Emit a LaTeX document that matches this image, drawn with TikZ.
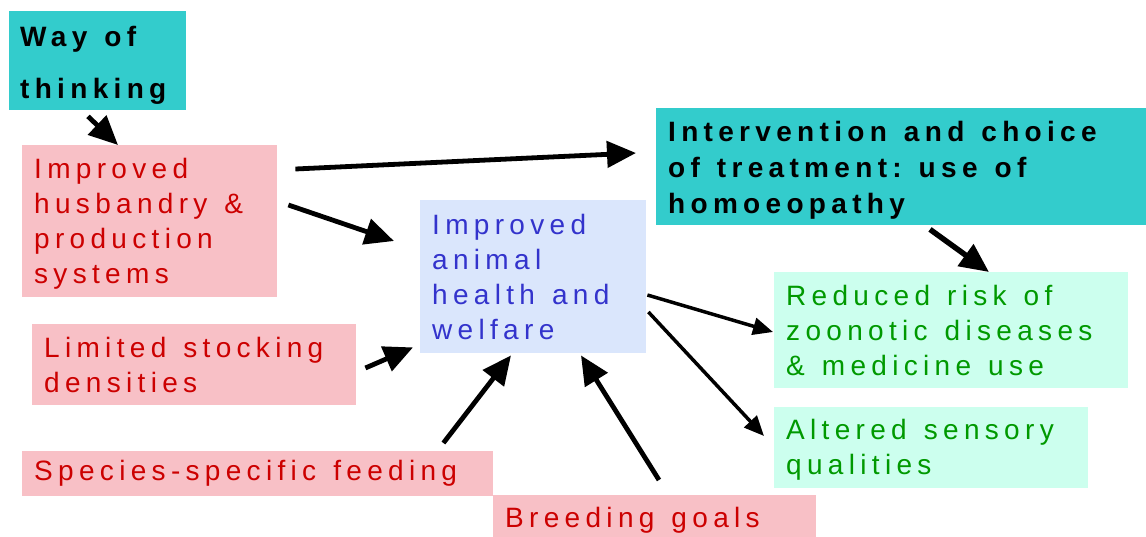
\documentclass[tikz,border=0pt]{standalone}
\usepackage{fontspec}
\setmainfont{Liberation Sans}
\newfontfamily\spacedfont[LetterSpace=19]{Liberation Sans}
\newcommand\wsp{\hspace{17pt}}
\usetikzlibrary{arrows.meta,calc}
\definecolor{tealbox}{RGB}{51,204,204}
\definecolor{pinkbox}{RGB}{248,192,198}
\definecolor{bluebox}{RGB}{218,230,252}
\definecolor{greenbox}{RGB}{204,255,238}
\definecolor{redtext}{RGB}{204,0,0}
\definecolor{bluetext}{RGB}{51,51,204}
\definecolor{greentext}{RGB}{0,153,0}
\begin{document}
\begin{tikzpicture}[x=1pt,y=-1pt,
    box/.style = {anchor=north west,inner xsep=12pt,inner ysep=0pt,align=left,
                  font=\spacedfont\fontsize{28}{35}\selectfont},
    mainbox/.style = {box,fill=tealbox,text=black,
                  font=\spacedfont\bfseries\fontsize{28}{36}\selectfont},
    causebox/.style = {box,fill=pinkbox,text=redtext},
    healthbox/.style = {box,fill=bluebox,text=bluetext},
    resultbox/.style = {box,fill=greenbox,text=greentext},
    arrow/.style = {line width=4.8pt,-{Triangle[length=29pt,width=26pt]}},
    thinarrow/.style = {line width=3.5pt,-{Triangle[length=20pt,width=17pt]}}]
    \useasboundingbox (0,0) rectangle (1146,536);

    \node[mainbox,font=\spacedfont\bfseries\fontsize{28}{52}\selectfont,inner xsep=11pt,
          minimum width=177pt,minimum height=99pt,text width=155pt] (think) at (9,11)
        {\rule{0pt}{29pt}Way\wsp of\\thinking};
    \node[causebox,minimum width=255pt,minimum height=152pt,text width=231pt] (husb) at (22,145)
        {\rule{0pt}{26pt}Improved\\husbandry\wsp \&\\production\\systems};
    \node[causebox,minimum width=324pt,minimum height=81pt,text width=300pt] (limit) at (32,324)
        {Limited\wsp stocking\\densities};
    \node[causebox,minimum width=471pt,minimum height=45pt,text width=447pt] (feed) at (22,451)
        {Species-specific\wsp feeding};
    \node[causebox,minimum width=323pt,minimum height=50pt,text width=299pt] (breed) at (493,495)
        {Breeding\wsp goals};
    \node[healthbox,minimum width=226pt,minimum height=153pt,text width=202pt] (health) at (420,200)
        {Improved\\animal\\health\wsp and\\welfare};
    \node[mainbox,minimum width=490pt,minimum height=117pt,text width=466pt] (interv) at (656,108)
        {\rule{0pt}{28pt}Intervention\wsp and\wsp choice\\of\wsp treatment:\wsp use\wsp of\\homoeopathy};
    \node[resultbox,minimum width=354pt,minimum height=116pt,text width=330pt] (reduce) at (774,272)
        {Reduced\wsp risk\wsp of\\zoonotic\wsp diseases\\\&\wsp medicine\wsp use};
    \node[resultbox,minimum width=314pt,minimum height=81pt,text width=290pt] (alter) at (774,407)
        {\rule{0pt}{24pt}Altered\wsp sensory\\qualities};

    \draw[arrow] ($(think.south west)+(79,6)$) -- ($(husb.north west)+(96,0)$);
    \draw[arrow] ($(husb.north east)+(18,24)$) -- ($(interv.north west)+(-20,45)$);
    \draw[arrow] ($(husb.north east)+(11,60)$) -- ($(health.north west)+(-26,41)$);
    \draw[arrow] ($(limit.north east)+(9,44)$) -- ($(health.south west)+(-7,-6)$);
    \draw[arrow] ($(feed.north east)+(-50,-8)$) -- ($(health.south west)+(91,2)$);
    \draw[arrow] ($(breed.north west)+(166,-15)$) -- ($(health.south west)+(161,2)$);
    \draw[arrow,line width=5.5pt] ($(interv.south west)+(274,4)$) -- ($(reduce.north west)+(215,0)$);
    \draw[thinarrow] ($(health.north east)+(1,95)$) -- ($(reduce.north west)+(-1,60)$);
    \draw[thinarrow] ($(health.north east)+(2,112)$) -- ($(alter.north west)+(-10,29)$);
\end{tikzpicture}
\end{document}
